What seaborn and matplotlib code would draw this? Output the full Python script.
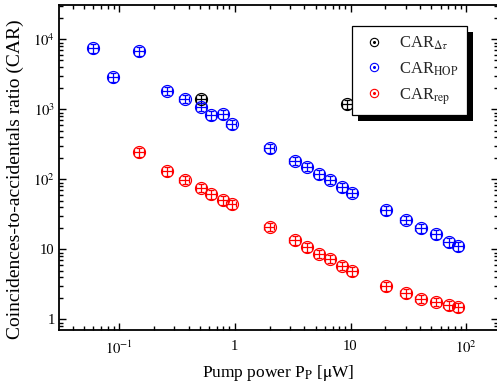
import matplotlib
matplotlib.use("Agg")
import matplotlib.pyplot as plt
import seaborn as sns
import numpy as np
from matplotlib.lines import Line2D
from matplotlib.patches import Rectangle
from matplotlib.transforms import IdentityTransform
from matplotlib.ticker import LogLocator, FixedLocator, FixedFormatter, NullFormatter

# pump power (uW) and CAR values
hop_power = [0.06, 0.089, 0.15, 0.26, 0.37, 0.51, 0.63, 0.79, 0.94,
             2.0, 3.3, 4.2, 5.35, 6.65, 8.5, 10.3, 20.3, 30.0, 40.4, 55.0, 70.5, 85.5]
hop_car = [7440, 2870, 6810, 1846, 1420, 1090, 830, 849, 612,
           281, 185, 152, 119, 99, 77, 64.6, 36.2, 26.6, 20.1, 16.5, 12.8, 11.2]

rep_power = [0.15, 0.26, 0.37, 0.51, 0.63, 0.79, 0.94,
             2.0, 3.3, 4.2, 5.35, 6.65, 8.5, 10.3, 20.3, 30.0, 40.4, 55.0, 70.5, 85.5]
rep_car = [245, 131, 99, 76, 61, 50.8, 44.5,
           21.1, 13.6, 10.8, 8.7, 7.4, 5.86, 4.87, 2.98, 2.37, 1.98, 1.80, 1.60, 1.49]

dtau_power = [0.51, 9.3]
dtau_car = [1419, 1192]

xtick_vals = [0.1, 1, 10, 100]
xtick_labels = [r"$10^{-1}$", "1", "10", r"$10^{2}$"]
ytick_vals = [1, 10, 100, 1000, 10000]
ytick_labels = ["1", "10", r"$10^{2}$", r"$10^{3}$", r"$10^{4}$"]

XERR_REL = 0.10
YERR_REL = 0.14

sns.set_theme(style="ticks")
plt.rcParams["font.family"] = ["Liberation Serif", "DejaVu Serif"]
plt.rcParams["mathtext.fontset"] = "stix"

fig = plt.figure(figsize=(4.97, 3.88), dpi=100)
ax = fig.add_axes([0.1187, 0.1495, 0.884, 0.8376])

series = [
    (dtau_power, dtau_car, "black"),
    (hop_power, hop_car, "#0000ff"),
    (rep_power, rep_car, "#ff0000"),
]
for px, py, col in series:
    px = np.array(px)
    py = np.array(py)
    ax.errorbar(px, py, xerr=px * XERR_REL, yerr=py * YERR_REL, fmt="o",
                ms=8.6, mfc="none", mec=col, mew=0.9, ecolor=col,
                elinewidth=0.9, capsize=2.5, capthick=0.9, zorder=3)

ax.set_xscale("log")
ax.set_yscale("log")
ax.set_xlim(0.0304, 189)
ax.set_ylim(0.708, 31000)

ax.xaxis.set_major_locator(FixedLocator(xtick_vals))
ax.xaxis.set_major_formatter(FixedFormatter(xtick_labels))
ax.yaxis.set_major_locator(FixedLocator(ytick_vals))
ax.yaxis.set_major_formatter(FixedFormatter(ytick_labels))
ax.xaxis.set_minor_locator(LogLocator(base=10, subs=np.arange(2, 10), numticks=20))
ax.yaxis.set_minor_locator(LogLocator(base=10, subs=np.arange(2, 10), numticks=20))
ax.xaxis.set_minor_formatter(NullFormatter())
ax.yaxis.set_minor_formatter(NullFormatter())

ax.tick_params(which="both", direction="in", top=True, right=True,
               width=1.0, color="black", labelsize=10.5, labelcolor="black")
ax.tick_params(which="major", length=5)
ax.tick_params(which="minor", length=3)
ax.tick_params(axis="x", which="major", pad=7)
ax.tick_params(axis="y", which="major", pad=3)
for sp in ax.spines.values():
    sp.set_linewidth(1.3)
    sp.set_color("black")

ax.set_xlabel(r"Pump power P$_{\mathrm{P}}$ [$\mathrm{\mu}$W]", fontsize=12.5, color="black")
ax.set_ylabel("Coincidences-to-accidentals ratio (CAR)", fontsize=14, color="black")
ax.yaxis.set_label_coords(-0.08, 0.465)

handles = []
for _, _, col in series:
    ring = Line2D([], [], ls="none", marker="o", ms=6, mfc="none", mec=col, mew=0.8)
    dot = Line2D([], [], ls="none", marker="o", ms=1.2, mfc=col, mec=col)
    handles.append((ring, dot))
labels = [r"CAR$_{\Delta\tau}$", r"CAR$_{\mathrm{HOP}}$", r"CAR$_{\mathrm{rep}}$"]
leg = ax.legend(handles, labels, loc="upper right", bbox_to_anchor=(0.9287, 0.935),
                borderaxespad=0, fontsize=12, frameon=True, fancybox=False,
                handlelength=1.6, handletextpad=0.7, borderpad=0.5,
                labelspacing=0.5)
leg.get_frame().set_edgecolor("black")
leg.get_frame().set_linewidth(0.9)
leg.get_frame().set_alpha(1.0)
leg.set_zorder(6)

# solid offset shadow behind the legend box
fig.canvas.draw()
bb = leg.get_window_extent()
shadow = Rectangle((bb.x0 + 6, bb.y0 - 6), bb.width, bb.height, transform=IdentityTransform(),
                   facecolor="black", edgecolor="none", zorder=5.5, clip_on=False)
ax.add_artist(shadow)

fig.savefig("out.png", dpi=100)
